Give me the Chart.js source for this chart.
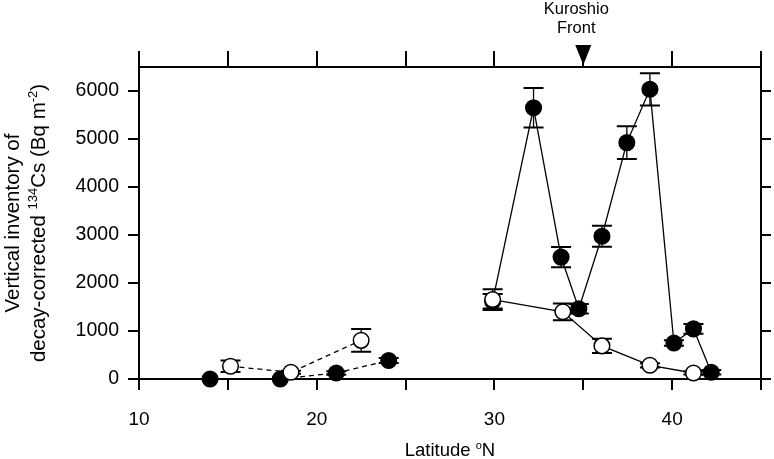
<!DOCTYPE html>
<html>
<head>
<meta charset="utf-8">
<script src="https://cdn.jsdelivr.net/npm/chart.js@4.4.1/dist/chart.umd.min.js"></script>
<style>
  html, body { margin: 0; padding: 0; background: #fff; }
  #wrap { width: 774px; height: 459px; position: relative; }
</style>
</head>
<body>
<div id="wrap"><canvas id="chart"></canvas></div>
<script>
// latitude (deg N), decay-corrected 134Cs inventory (Bq m-2) and error (+/-)
const filledSouthLat = [14.0, 17.95, 21.1, 24.05];
const filledSouthInv = [0, 0, 125, 385];
const filledSouthErr = [0, 0, 35, 50];

const openSouthLat = [15.15, 18.55, 22.5];
const openSouthInv = [265, 140, 805];
const openSouthErr = [120, 30, 235];

const filledNorthLat = [29.9, 32.2, 33.75, 34.75, 36.05, 37.45, 38.75, 40.1, 41.2, 42.2];
const filledNorthInv = [1620, 5650, 2540, 1465, 2975, 4925, 6035, 750, 1045, 140];
const filledNorthErr = [150, 410, 210, 100, 220, 340, 335, 55, 100, 45];

const openNorthLat = [29.9, 33.85, 36.05, 38.75, 41.2];
const openNorthInv = [1655, 1400, 690, 285, 125];
const openNorthErr = [215, 175, 150, 45, 30];

// Kuroshio Front marker (latitude, height above the frame in data units)
const frontLat = [35];
const frontPos = [6750];

const xLabelTicks = [10, 20, 30, 40];
const yTickValues = [0, 1000, 2000, 3000, 4000, 5000, 6000];

const FONT = '"Liberation Sans", Arial, Helvetica, sans-serif';
const pts = (xs, ys) => xs.map((x, i) => ({ x: x, y: ys[i] }));

function series(label, xs, ys, errs, filled, dashed) {
  return {
    label: label,
    data: pts(xs, ys),
    errors: errs,
    showLine: true,
    borderColor: '#000',
    borderWidth: 1.3,
    borderDash: dashed ? [5, 4] : [],
    backgroundColor: filled ? '#000' : '#fff',
    pointBackgroundColor: filled ? '#000' : '#fff',
    pointBorderColor: '#000',
    pointBorderWidth: 1.5,
    pointRadius: 7.8,
    clip: false
  };
}

const errorBars = {
  id: 'errorBars',
  beforeDatasetsDraw(chart) {
    const ctx = chart.ctx, y = chart.scales.y;
    ctx.save();
    ctx.strokeStyle = '#000';
    chart.data.datasets.forEach((ds, i) => {
      if (!ds.errors) return;
      const meta = chart.getDatasetMeta(i);
      meta.data.forEach((pt, j) => {
        const e = ds.errors[j];
        if (!e) return;
        const v = ds.data[j].y;
        const top = y.getPixelForValue(v + e), bot = y.getPixelForValue(v - e);
        ctx.lineWidth = 1.3;
        ctx.beginPath(); ctx.moveTo(pt.x, top); ctx.lineTo(pt.x, bot); ctx.stroke();
        ctx.lineWidth = 2;
        ctx.beginPath();
        ctx.moveTo(pt.x - 10, top); ctx.lineTo(pt.x + 10, top);
        ctx.moveTo(pt.x - 10, bot); ctx.lineTo(pt.x + 10, bot);
        ctx.stroke();
      });
    });
    ctx.restore();
  }
};

// text with superscript pieces, centred on cx, baseline at by
function drawRuns(ctx, runs, cx, by, size) {
  const supSize = Math.round(size * 0.62);
  let total = 0;
  runs.forEach(r => {
    ctx.font = (r.sup ? supSize : size) + 'px ' + FONT;
    r.w = ctx.measureText(r.t).width;
    total += r.w;
  });
  let x = cx - total / 2;
  ctx.textAlign = 'left';
  ctx.textBaseline = 'alphabetic';
  runs.forEach(r => {
    ctx.font = (r.sup ? supSize : size) + 'px ' + FONT;
    ctx.fillText(r.t, x, r.sup ? by - size * 0.4 : by);
    x += r.w;
  });
}

const titles = {
  id: 'titles',
  afterDraw(chart) {
    const ctx = chart.ctx, a = chart.chartArea, xs = chart.scales.x, ys = chart.scales.y;
    ctx.save();
    ctx.fillStyle = '#000';
    // y axis title
    ctx.save();
    ctx.translate(0, (a.top + a.bottom) / 2);
    ctx.rotate(-Math.PI / 2);
    drawRuns(ctx, [{ t: 'Vertical inventory of' }], 0, 19, 20.5);
    drawRuns(ctx, [{ t: 'decay-corrected ' }, { t: '134', sup: true }, { t: 'Cs (Bq m' }, { t: '-2', sup: true }, { t: ')' }], 0, 45, 20.5);
    ctx.restore();
    // x axis title
    drawRuns(ctx, [{ t: 'Latitude ' }, { t: 'o', sup: true }, { t: 'N' }], (a.left + a.right) / 2, 456, 18.5);
    // front marker and label
    const fx = xs.getPixelForValue(frontLat[0]);
    const fy = ys.getPixelForValue(frontPos[0]);
    ctx.beginPath();
    ctx.moveTo(fx - 8, fy - 10);
    ctx.lineTo(fx + 8, fy - 10);
    ctx.lineTo(fx, fy + 10);
    ctx.closePath();
    ctx.fill();
    drawRuns(ctx, [{ t: 'Kuroshio' }], fx - 7, 14, 16.5);
    drawRuns(ctx, [{ t: 'Front' }], fx - 7, 33, 16.5);
    ctx.restore();
  }
};

const axisGrid = (len) => ({ drawOnChartArea: false, drawTicks: true, tickLength: len, lineWidth: 2, color: '#000' });
const axisBorder = { display: true, color: '#000', width: 2 };
const setYTicks = s => { s.ticks = yTickValues.map(v => ({ value: v })); };
const noPad = s => { s.paddingLeft = 0; s.paddingRight = 0; s.paddingTop = 0; s.paddingBottom = 0; };

new Chart(document.getElementById('chart'), {
  type: 'scatter',
  data: {
    datasets: [
      series('open north', openNorthLat, openNorthInv, openNorthErr, false, false),
      series('open south', openSouthLat, openSouthInv, openSouthErr, false, true),
      series('filled north', filledNorthLat, filledNorthInv, filledNorthErr, true, false),
      series('filled south', filledSouthLat, filledSouthInv, filledSouthErr, true, true)
    ]
  },
  options: {
    responsive: true,
    maintainAspectRatio: false,
    animation: false,
    events: [],
    layout: { padding: 0 },
    plugins: { legend: { display: false }, tooltip: { enabled: false } },
    scales: {
      x: {
        type: 'linear', position: 'bottom', min: 10, max: 45,
        ticks: {
          stepSize: 5, autoSkip: false, maxRotation: 0, padding: 18, color: '#000',
          font: { family: FONT, size: 19 },
          callback: v => xLabelTicks.includes(v) ? String(v) : ''
        },
        grid: axisGrid(11),
        border: axisBorder,
        afterFit: s => { noPad(s); s.height = 80; }
      },
      x2: {
        type: 'linear', position: 'top', min: 10, max: 45,
        ticks: { stepSize: 5, display: false },
        grid: axisGrid(16),
        border: axisBorder,
        afterFit: s => { noPad(s); s.height = 67; }
      },
      y: {
        type: 'linear', position: 'left', min: 0, max: 6500,
        afterBuildTicks: setYTicks,
        ticks: {
          padding: 9, color: '#000',
          font: { family: FONT, size: 19.5 },
          callback: v => String(v)
        },
        grid: axisGrid(11),
        border: axisBorder,
        afterFit: s => { noPad(s); s.width = 139; }
      },
      y2: {
        type: 'linear', position: 'right', min: 0, max: 6500,
        afterBuildTicks: setYTicks,
        ticks: { display: false },
        grid: axisGrid(10),
        border: axisBorder,
        afterFit: s => { noPad(s); s.width = 13; }
      }
    }
  },
  plugins: [errorBars, titles]
});
</script>
</body>
</html>
